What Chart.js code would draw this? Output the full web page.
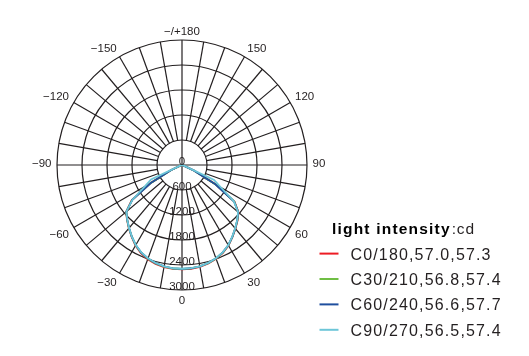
<!DOCTYPE html>
<html>
<head>
<meta charset="utf-8">
<script src="https://cdn.jsdelivr.net/npm/chart.js@4/dist/chart.umd.min.js"></script>
<style>
html,body{margin:0;padding:0;background:#fff;}
#wrap{width:529px;height:356px;position:relative;}
canvas{display:block;}
</style>
</head>
<body>
<div id="wrap"><canvas id="c" width="529" height="356"></canvas></div>
<script>
// Gamma angle of every radial category (degrees), clockwise from the top
const gammaLabels = [180,175,170,165,160,155,150,145,140,135,130,125,120,115,110,105,100,95,
  90,85,80,75,70,65,60,55,50,45,40,35,30,25,20,15,10,5,
  0,-5,-10,-15,-20,-25,-30,-35,-40,-45,-50,-55,-60,-65,-70,-75,-80,-85,
  -90,-95,-100,-105,-110,-115,-120,-125,-130,-135,-140,-145,-150,-155,-160,-165,-170,-175];

// Angle tick labels shown round the diagram
const angleTickGammas = [180,150,120,90,60,30,0,-30,-60,-90,-120,-150];
const angleTickTexts = ['\u2212/+180','150','120','90','60','30','0','\u221230','\u221260','\u221290','\u2212120','\u2212150'];

// Intensity ticks (cd)
const intensityTicks = [0,600,1200,1800,2400,3000];

// Series names and colours
const seriesNames = ['C0/180,57.0,57.3','C30/210,56.8,57.4','C60/240,56.6,57.7','C90/270,56.5,57.4'];
const seriesColors = ['#ed1c24','#6fbe44','#1f4f9e','#6dc6d8'];

// Intensity (cd) at gamma 0,5,...,180 for each C-plane
const c0   = [2505,2500,2480,2445,2395,2325,2230,2110,1995,1885,1770,1540,940,330,45,0,0,0,0, 0,0,0,0,0,0,0,0,0,0,0,0,0,0,0,0,0,0];
const c180 = [2505,2502,2486,2456,2410,2335,2232,2106,1985,1866,1750,1470,880,300,40,0,0,0,0, 0,0,0,0,0,0,0,0,0,0,0,0,0,0,0,0,0,0];
const c30  = [2496,2492,2472,2438,2388,2318,2226,2108,1990,1878,1764,1532,932,325,44,0,0,0,0, 0,0,0,0,0,0,0,0,0,0,0,0,0,0,0,0,0,0];
const c210 = [2498,2494,2478,2444,2394,2322,2222,2100,1980,1862,1748,1462,872,296,40,0,0,0,0, 0,0,0,0,0,0,0,0,0,0,0,0,0,0,0,0,0,0];
const c60  = [2492,2488,2470,2435,2385,2315,2222,2106,1988,1876,1762,1526,924,320,42,0,0,0,0, 0,0,0,0,0,0,0,0,0,0,0,0,0,0,0,0,0,0];
const c240 = [2494,2490,2472,2438,2386,2318,2220,2100,1976,1858,1744,1456,866,294,38,0,0,0,0, 0,0,0,0,0,0,0,0,0,0,0,0,0,0,0,0,0,0];
const c90  = [2490,2486,2468,2432,2382,2312,2218,2102,1984,1872,1756,1520,1080,850,60,0,0,0,0, 0,0,0,0,0,0,0,0,0,0,0,0,0,0,0,0,0,0];
const c270 = [2492,2488,2470,2434,2384,2314,2216,2098,1976,1858,1742,1450,1030,820,60,0,0,0,0, 0,0,0,0,0,0,0,0,0,0,0,0,0,0,0,0,0,0];

const planePairs = [[c0,c180],[c30,c210],[c60,c240],[c90,c270]];

function planeSeries(right, left) {
  return gammaLabels.map(g => g >= 0 ? right[g / 5] : left[-g / 5]);
}

const INK = '#231f20';
const FONT = '"Liberation Sans", Arial, sans-serif';

const photometricPlugin = {
  id: 'photometric',
  beforeDatasetsDraw(chart) {
    const s = chart.scales.r;
    const ctx = chart.ctx;
    ctx.save();
    ctx.strokeStyle = INK;
    ctx.lineWidth = 1.2;
    const inner = s.getDistanceFromCenterForValue(intensityTicks[1]);
    const outer = s.drawingArea;
    gammaLabels.forEach((g, i) => {
      if (g % 10 !== 0) return;
      const d0 = (g % 90 === 0) ? 0 : inner;
      const a = s.getPointPosition(i, d0);
      const b = s.getPointPosition(i, outer);
      ctx.beginPath();
      ctx.moveTo(a.x, a.y);
      ctx.lineTo(b.x, b.y);
      ctx.stroke();
    });
    ctx.restore();
  },
  afterDatasetsDraw(chart) {
    const s = chart.scales.r;
    const ctx = chart.ctx;
    ctx.save();
    ctx.fillStyle = INK;
    ctx.font = '11.5px ' + FONT;
    ctx.textBaseline = 'alphabetic';
    ctx.textAlign = 'center';
    intensityTicks.forEach(v => {
      const d = s.getDistanceFromCenterForValue(v);
      ctx.fillText(String(v), s.xCenter, s.yCenter + d);
    });
    const capH = 8.2;
    angleTickGammas.forEach((g, k) => {
      const i = gammaLabels.indexOf(g);
      const p = s.getPointPosition(i, s.drawingArea + 5.5);
      const ux = Math.cos(p.angle), uy = Math.sin(p.angle);
      ctx.textAlign = ux > 0.01 ? 'left' : (ux < -0.01 ? 'right' : 'center');
      let by;
      if (uy < -0.01) by = p.y;
      else if (uy > 0.01) by = p.y + capH;
      else by = p.y + capH / 2 - 2.5;
      ctx.fillText(angleTickTexts[k], p.x, by);
    });
    ctx.restore();
  },
  afterDraw(chart) {
    const ctx = chart.ctx;
    ctx.save();
    ctx.textAlign = 'left';
    ctx.textBaseline = 'alphabetic';
    ctx.fillStyle = '#000';
    ctx.font = 'bold 15.5px ' + FONT;
    if ('letterSpacing' in ctx) ctx.letterSpacing = '1.2px';
    const tx = 332, ty = 234;
    ctx.fillText('light intensity', tx, ty);
    const tw = ctx.measureText('light intensity').width;
    ctx.font = '15.5px ' + FONT;
    if ('letterSpacing' in ctx) ctx.letterSpacing = '0.8px';
    ctx.fillStyle = INK;
    ctx.fillText(':cd', tx + tw + 1, ty);
    ctx.font = '16px ' + FONT;
    if ('letterSpacing' in ctx) ctx.letterSpacing = '1.15px';
    seriesNames.forEach((name, k) => {
      const by = 259.5 + 25.4 * k;
      const my = by - 5.9;
      ctx.strokeStyle = seriesColors[k];
      ctx.lineWidth = 2;
      ctx.beginPath();
      ctx.moveTo(319.5, my);
      ctx.lineTo(338.5, my);
      ctx.stroke();
      ctx.fillStyle = INK;
      ctx.fillText(name, 350.5, by);
    });
    ctx.restore();
  }
};

const datasets = seriesNames.map((name, k) => ({
  label: name,
  data: planeSeries(planePairs[k][0], planePairs[k][1]),
  borderColor: seriesColors[k],
  backgroundColor: 'transparent',
  fill: false,
  borderWidth: 1.8,
  pointRadius: 0,
  pointHoverRadius: 0,
  tension: 0,
  order: 4 - k
}));

new Chart(document.getElementById('c'), {
  type: 'radar',
  data: { labels: gammaLabels.map(String), datasets },
  options: {
    responsive: false,
    devicePixelRatio: 1,
    animation: false,
    events: [],
    layout: { padding: { left: 57, top: 40, right: 222, bottom: 66 } },
    plugins: { legend: { display: false }, tooltip: { enabled: false } },
    scales: {
      r: {
        min: 0,
        max: 3000,
        startAngle: 0,
        ticks: { stepSize: 600, display: false },
        grid: { circular: true, color: INK, lineWidth: 1.2 },
        angleLines: { display: false },
        pointLabels: { display: false }
      }
    }
  },
  plugins: [photometricPlugin]
});
</script>
</body>
</html>
